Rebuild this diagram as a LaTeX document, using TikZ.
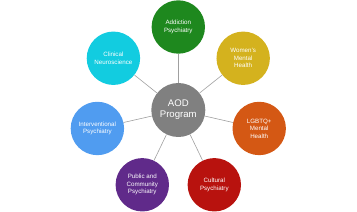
\documentclass[tikz,border=0pt]{standalone}
\usepackage{fontspec}
\setmainfont{Liberation Sans}
\usetikzlibrary{calc}
\definecolor{cgreen}{RGB}{30,136,30}
\definecolor{cgold}{RGB}{212,178,30}
\definecolor{corange}{RGB}{212,88,20}
\definecolor{cred}{RGB}{184,18,14}
\definecolor{cpurple}{RGB}{96,42,138}
\definecolor{cblue}{RGB}{80,156,240}
\definecolor{ccyan}{RGB}{18,204,224}
\definecolor{cgray}{RGB}{128,128,128}
\definecolor{cline}{RGB}{160,160,160}
\begin{document}
\begin{tikzpicture}[x=1pt,y=1pt,
  outer/.style={circle,minimum size=53.4pt,inner sep=0pt,align=center,text=white,
    font=\fontsize{6.2}{7.6}\selectfont},
  hub/.style={circle,minimum size=54pt,inner sep=0pt,align=center,text=white,fill=cgray,
    font=\fontsize{9.6}{11}\selectfont},
  conn/.style={draw=cline,line width=0.6pt}]
\useasboundingbox (0,0) rectangle (357,212);
\node[hub] (c) at (178.3,102) {AOD\\Program};
\node[outer,fill=cgreen] (a) at ($(c)+(90:83pt)$) {Addiction\\Psychiatry};
\node[outer,fill=cgold] (w) at ($(c)+(38.57:83pt)$) {Women’s\\Mental\\Health};
\node[outer,fill=corange] (l) at ($(c)+(-12.86:83pt)$) {LGBTQ+\\Mental\\Health};
\node[outer,fill=cred] (cu) at ($(c)+(-64.29:83pt)$) {Cultural\\Psychiatry};
\node[outer,fill=cpurple] (p) at ($(c)+(-115.71:83pt)$) {Public and\\Community\\Psychiatry};
\node[outer,fill=cblue] (i) at ($(c)+(-167.14:83pt)$) {Interventional\\Psychiatry};
\node[outer,fill=ccyan] (n) at ($(c)+(141.43:83pt)$) {Clinical\\Neuroscience};
\foreach \t in {a,w,l,cu,p,i,n} \draw[conn] (c) -- (\t);
\end{tikzpicture}
\end{document}
